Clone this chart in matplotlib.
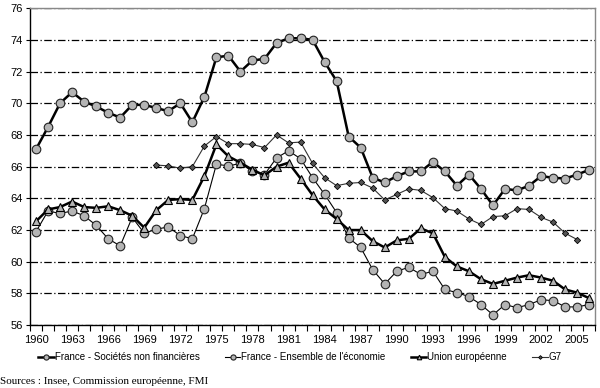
import numpy as np
import matplotlib
matplotlib.use("Agg")
import matplotlib.pyplot as plt

years = list(range(1960, 2007))

societes = [67.1, 68.5, 70.0, 70.7, 70.1, 69.8, 69.4, 69.1, 69.9, 69.9,
            69.7, 69.5, 70.0, 68.8, 70.4, 72.9, 73.0, 72.0, 72.7, 72.8,
            73.8, 74.1, 74.1, 74.0, 72.6, 71.4, 67.9, 67.2, 65.3, 65.0,
            65.4, 65.7, 65.7, 66.3, 65.7, 64.8, 65.5, 64.6, 63.55, 64.6,
            64.5, 64.8, 65.4, 65.3, 65.25, 65.5, 65.8]

ensemble = [61.9, 63.2, 63.05, 63.2, 62.9, 62.3, 61.45, 61.0, 62.8, 61.8,
            62.05, 62.2, 61.65, 61.45, 63.35, 66.15, 66.05, 66.2, 65.7, 65.5,
            66.55, 67.0, 66.5, 65.3, 64.25, 63.1, 61.5, 60.9, 59.5, 58.6,
            59.4, 59.65, 59.2, 59.4, 58.25, 58.05, 57.8, 57.3, 56.65, 57.3,
            57.1, 57.3, 57.6, 57.55, 57.15, 57.15, 57.3]

union_eu = [62.55, 63.3, 63.45, 63.8, 63.45, 63.4, 63.5, 63.25, 62.9, 62.15,
            63.25, 63.9, 63.95, 63.9, 65.4, 67.4, 66.65, 66.25, 65.8, 65.45,
            66.0, 66.25, 65.25, 64.2, 63.3, 62.7, 62.0, 62.0, 61.3, 60.9,
            61.35, 61.45, 62.1, 61.8, 60.3, 59.7, 59.4, 58.9, 58.6, 58.8,
            59.0, 59.15, 59.0, 58.8, 58.25, 58.05, 57.7]

g7 = [None] * 10 + [66.1, 66.05, 65.9, 66.0, 67.3, 67.9, 67.45, 67.45, 67.4, 67.2,
                    68.0, 67.5, 67.55, 66.2, 65.3, 64.8, 64.95, 65.0, 64.65, 63.9,
                    64.25, 64.6, 64.5, 64.05, 63.35, 63.2, 62.7, 62.35, 62.85, 62.9,
                    63.35, 63.3, 62.8, 62.5, 61.8, 61.4, None]

labels = ["France - Sociétés non financières", "France - Ensemble de l'économie",
          "Union européenne", "G7"]

plt.rcParams["font.family"] = ["Liberation Sans", "DejaVu Sans"]

fig = plt.figure(figsize=(6, 3.88), dpi=100)
ax = fig.add_axes([0.05, 0.162, 0.942, 0.817])

x = np.arange(len(years))
g7_arr = np.array([np.nan if v is None else v for v in g7])
grey = "#b4b4b4"

ax.plot(x, societes, color="black", lw=1.8, marker="o", ms=6.2,
        mfc=grey, mec="#222222", mew=0.8, label=labels[0], zorder=4)
ax.plot(x, ensemble, color="black", lw=0.8, marker="o", ms=6.2,
        mfc=grey, mec="#222222", mew=0.8, label=labels[1], zorder=3)
ax.plot(x, union_eu, color="black", lw=1.8, marker="^", ms=5.5,
        mfc=grey, mec="black", mew=0.8, label=labels[2], zorder=3)
ax.plot(x, g7_arr, color="#333333", lw=0.8, marker="D", ms=3.2,
        mfc="#555555", mec="black", mew=0.6, label=labels[3], zorder=3)

ax.set_xlim(-0.5, len(years) - 0.5)
ax.set_ylim(56, 76)
ax.set_yticks(np.arange(56, 77, 2))
ax.yaxis.grid(True, color="black", lw=0.9, linestyle=(0, (6, 2, 1, 2)))
ax.set_axisbelow(True)
ax.tick_params(axis="y", labelsize=8, length=3, width=0.8, pad=2)

ax.set_xticks(x[::3])
ax.set_xticklabels([str(y) for y in years[::3]])
ax.set_xticks(np.arange(-0.5, len(years), 1), minor=True)
ax.tick_params(axis="x", which="major", length=0, labelsize=8, pad=7)
ax.tick_params(axis="x", which="minor", length=4, width=0.8)

for side in ("top", "right"):
    ax.spines[side].set_color("#888888")
    ax.spines[side].set_linewidth(1.0)
ax.spines["left"].set_linewidth(1.0)
ax.spines["bottom"].set_linewidth(1.0)

fig.legend(loc="center", bbox_to_anchor=(0.5, 0.08), ncol=4, frameon=False,
           fontsize=7, handlelength=1.6, handletextpad=0.1, columnspacing=2.6,
           markerscale=0.6)

fig.text(0.0, 0.005, "Sources : Insee, Commission européenne, FMI",
         family="Liberation Serif", fontsize=8, va="bottom", ha="left")

fig.savefig("out.png", dpi=100)
